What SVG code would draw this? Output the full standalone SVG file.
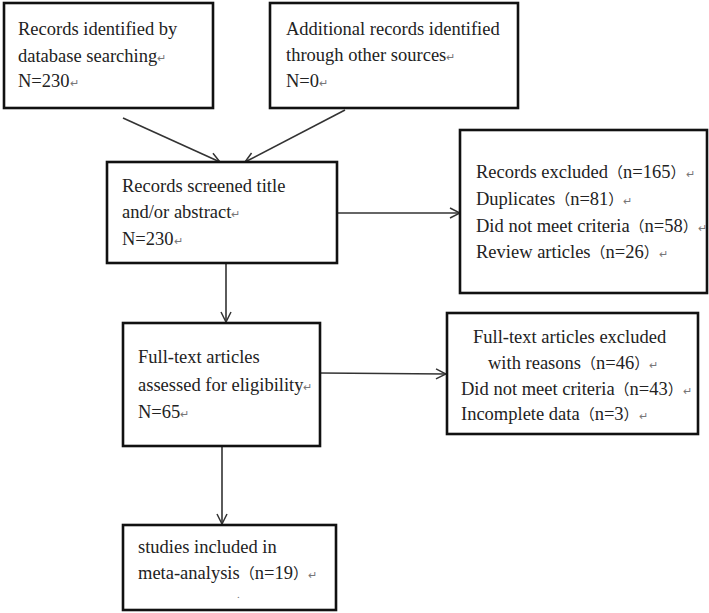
<svg xmlns="http://www.w3.org/2000/svg" width="709" height="613" viewBox="0 0 709 613">
<defs>
<style>
.box{fill:#fff;stroke:#111;stroke-width:2.6}
.t{font-family:"Liberation Serif","Times New Roman",serif;font-size:18.5px;fill:#222}
.p{font-family:"Noto Sans CJK SC",serif;font-size:15px}
.r{font-size:11px;fill:#777}
.c{stroke:#333;stroke-width:1.6;fill:none}
</style>
<marker id="ah" viewBox="0 0 12 12" refX="11" refY="6" markerWidth="12" markerHeight="12" markerUnits="userSpaceOnUse" orient="auto">
<path d="M1,1 L11,6 L1,11" fill="none" stroke="#333" stroke-width="1.5"/>
</marker>
</defs>
<rect width="709" height="613" fill="#fff"/>
<g id="connectors">
<line class="c" x1="123" y1="118" x2="220" y2="162" marker-end="url(#ah)"/>
<line class="c" x1="345" y1="110" x2="245" y2="162" marker-end="url(#ah)"/>
<line class="c" x1="337" y1="213" x2="460" y2="213" marker-end="url(#ah)"/>
<line class="c" x1="226" y1="263" x2="226" y2="322" marker-end="url(#ah)"/>
<line class="c" x1="320" y1="373" x2="446" y2="374" marker-end="url(#ah)"/>
<line class="c" x1="222" y1="446" x2="222" y2="524" marker-end="url(#ah)"/>
</g>
<g id="n1">
<rect class="box" x="4" y="3" width="209" height="105"/>
<text class="t" x="18" y="35">Records identified by</text>
<text class="t" x="18" y="62">database searching<tspan class="r">↵</tspan></text>
<text class="t" x="18" y="87">N=230<tspan class="r">↵</tspan></text>
</g>
<g id="n2">
<rect class="box" x="270" y="3" width="248" height="105"/>
<text class="t" x="286" y="35">Additional records identified</text>
<text class="t" x="286" y="61">through other sources<tspan class="r">↵</tspan></text>
<text class="t" x="286" y="87">N=0<tspan class="r">↵</tspan></text>
</g>
<g id="n3">
<rect class="box" x="107" y="162" width="230" height="101"/>
<text class="t" x="122" y="192">Records screened title</text>
<text class="t" x="122" y="218">and/or abstract<tspan class="r">↵</tspan></text>
<text class="t" x="122" y="245">N=230<tspan class="r">↵</tspan></text>
</g>
<g id="n4">
<rect class="box" x="460" y="130" width="247" height="163"/>
<text class="t" x="476" y="178">Records excluded<tspan class="p">（</tspan>n=165<tspan class="p">）</tspan><tspan class="r">↵</tspan></text>
<text class="t" x="476" y="205">Duplicates<tspan class="p">（</tspan>n=81<tspan class="p">）</tspan><tspan class="r">↵</tspan></text>
<text class="t" x="476" y="232">Did not meet criteria<tspan class="p">（</tspan>n=58<tspan class="p">）</tspan><tspan class="r">↵</tspan></text>
<text class="t" x="476" y="258">Review articles<tspan class="p">（</tspan>n=26<tspan class="p">）</tspan><tspan class="r">↵</tspan></text>
</g>
<g id="n5">
<rect class="box" x="123" y="323" width="197" height="123"/>
<text class="t" x="138" y="363">Full-text articles</text>
<text class="t" x="138" y="391">assessed  for eligibility<tspan class="r">↵</tspan></text>
<text class="t" x="138" y="418">N=65<tspan class="r">↵</tspan></text>
</g>
<g id="n6">
<rect class="box" x="447" y="313" width="251" height="121"/>
<text class="t" x="473" y="343">Full-text articles excluded</text>
<text class="t" x="488" y="369">with reasons<tspan class="p">（</tspan>n=46<tspan class="p">）</tspan><tspan class="r">↵</tspan></text>
<text class="t" x="461" y="395">Did not meet criteria<tspan class="p">（</tspan>n=43<tspan class="p">）</tspan><tspan class="r">↵</tspan></text>
<text class="t" x="461" y="420">Incomplete data<tspan class="p">（</tspan>n=3<tspan class="p">）</tspan><tspan class="r">↵</tspan></text>
</g>
<g id="n7">
<rect class="box" x="123" y="525" width="213" height="85"/>
<text class="t" x="138" y="553">studies included in</text>
<text class="t" x="138" y="579">meta-analysis<tspan class="p">（</tspan>n=19<tspan class="p">）</tspan><tspan class="r">↵</tspan></text>
<text class="t r" x="237" y="598">.</text>
</g>
</svg>
